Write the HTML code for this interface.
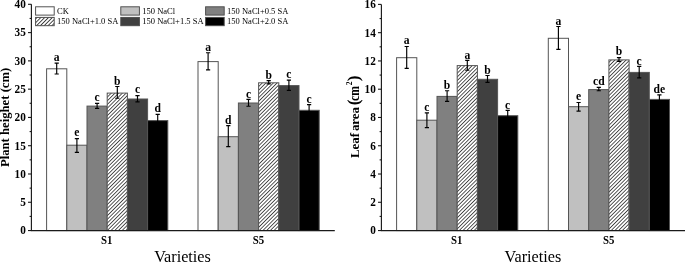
<!DOCTYPE html>
<html><head><meta charset="utf-8"><style>
html,body{margin:0;padding:0;background:#fff;}
body{width:685px;height:262px;overflow:hidden;}
svg{display:block;filter:grayscale(1);}
text{font-family:"Liberation Serif",serif;fill:#000;}
.tick{font-weight:bold;font-size:12px;}
.sig{font-weight:bold;font-size:11.6px;text-anchor:middle;}
.xt{font-weight:bold;font-size:12px;}
.xl{font-size:16.2px;}
.yl{font-weight:bold;font-size:12.7px;}
.leg{font-size:8.5px;}
</style></head><body>
<svg width="685" height="262" viewBox="0 0 685 262">
<defs>
<pattern id="hatch" patternUnits="userSpaceOnUse" width="2.62" height="10" patternTransform="rotate(45)">
<rect width="2.62" height="10" fill="#fff"/><rect width="0.7" height="10" fill="#111"/>
</pattern>
<pattern id="hatchL" patternUnits="userSpaceOnUse" width="2.72" height="10" patternTransform="rotate(45)">
<rect width="2.72" height="10" fill="#fff"/><rect width="0.75" height="10" fill="#111"/>
</pattern>
</defs>
<rect width="685" height="262" fill="#fff"/>
<rect x="46.60" y="68.80" width="20.20" height="161.75" fill="#ffffff" stroke="#555555" stroke-width="1"/>
<rect x="66.80" y="145.20" width="20.20" height="85.35" fill="#c0c0c0" stroke="#555555" stroke-width="1"/>
<rect x="87.00" y="106.10" width="20.20" height="124.45" fill="#808080" stroke="#555555" stroke-width="1"/>
<rect x="107.20" y="93.10" width="20.20" height="137.45" fill="url(#hatch)" stroke="#555555" stroke-width="1"/>
<rect x="127.40" y="99.00" width="20.20" height="131.55" fill="#404040" stroke="#555555" stroke-width="1"/>
<rect x="147.60" y="120.60" width="20.20" height="109.95" fill="#000000" stroke="#555555" stroke-width="1"/>
<path d="M56.70 63.05V74.00M54.60 63.05H58.80M54.60 74.00H58.80" stroke="#000" stroke-width="1.15" fill="none"/>
<text x="56.70" y="60.90" class="sig">a</text>
<path d="M76.90 138.60V152.40M74.80 138.60H79.00M74.80 152.40H79.00" stroke="#000" stroke-width="1.15" fill="none"/>
<text x="76.90" y="136.10" class="sig">e</text>
<path d="M97.10 103.40V108.30M95.00 103.40H99.20M95.00 108.30H99.20" stroke="#000" stroke-width="1.15" fill="none"/>
<text x="97.10" y="101.00" class="sig">c</text>
<path d="M117.30 86.50V98.20M115.20 86.50H119.40M115.20 98.20H119.40" stroke="#000" stroke-width="1.15" fill="none"/>
<text x="117.30" y="84.50" class="sig">b</text>
<path d="M137.50 95.60V101.80M135.40 95.60H139.60M135.40 101.80H139.60" stroke="#000" stroke-width="1.15" fill="none"/>
<text x="137.50" y="93.20" class="sig">c</text>
<path d="M157.70 114.40V126.00M155.60 114.40H159.80M155.60 126.00H159.80" stroke="#000" stroke-width="1.15" fill="none"/>
<text x="157.70" y="112.30" class="sig">d</text>
<rect x="198.00" y="61.60" width="20.20" height="168.95" fill="#ffffff" stroke="#555555" stroke-width="1"/>
<rect x="218.20" y="136.70" width="20.20" height="93.85" fill="#c0c0c0" stroke="#555555" stroke-width="1"/>
<rect x="238.40" y="103.00" width="20.20" height="127.55" fill="#808080" stroke="#555555" stroke-width="1"/>
<rect x="258.60" y="82.80" width="20.20" height="147.75" fill="url(#hatch)" stroke="#555555" stroke-width="1"/>
<rect x="278.80" y="85.60" width="20.20" height="144.95" fill="#404040" stroke="#555555" stroke-width="1"/>
<rect x="299.00" y="110.30" width="20.20" height="120.25" fill="#000000" stroke="#555555" stroke-width="1"/>
<path d="M208.10 52.70V69.80M206.00 52.70H210.20M206.00 69.80H210.20" stroke="#000" stroke-width="1.15" fill="none"/>
<text x="208.10" y="51.30" class="sig">a</text>
<path d="M228.30 125.60V146.60M226.20 125.60H230.40M226.20 146.60H230.40" stroke="#000" stroke-width="1.15" fill="none"/>
<text x="228.30" y="123.50" class="sig">d</text>
<path d="M248.50 99.40V106.20M246.40 99.40H250.60M246.40 106.20H250.60" stroke="#000" stroke-width="1.15" fill="none"/>
<text x="248.50" y="97.60" class="sig">c</text>
<path d="M268.70 80.60V83.80M266.60 80.60H270.80M266.60 83.80H270.80" stroke="#000" stroke-width="1.15" fill="none"/>
<text x="268.70" y="78.80" class="sig">b</text>
<path d="M288.90 80.10V90.40M286.80 80.10H291.00M286.80 90.40H291.00" stroke="#000" stroke-width="1.15" fill="none"/>
<text x="288.90" y="78.30" class="sig">c</text>
<path d="M309.10 104.60V115.00M307.00 104.60H311.20M307.00 115.00H311.20" stroke="#000" stroke-width="1.15" fill="none"/>
<text x="309.10" y="102.80" class="sig">c</text>
<path d="M31.4 4.31V230.55H334.8" stroke="#1a1a1a" stroke-width="1.15" fill="none"/>
<path d="M28.00 230.55H31.4" stroke="#1a1a1a" stroke-width="1.1"/>
<text transform="translate(25.80,234.40) scale(0.94,1.02)" class="tick" text-anchor="end">0</text>
<path d="M29.60 216.41H31.4" stroke="#1a1a1a" stroke-width="1.1"/>
<path d="M28.00 202.27H31.4" stroke="#1a1a1a" stroke-width="1.1"/>
<text transform="translate(25.80,206.12) scale(0.94,1.02)" class="tick" text-anchor="end">5</text>
<path d="M29.60 188.13H31.4" stroke="#1a1a1a" stroke-width="1.1"/>
<path d="M28.00 173.99H31.4" stroke="#1a1a1a" stroke-width="1.1"/>
<text transform="translate(25.80,177.84) scale(0.94,1.02)" class="tick" text-anchor="end">10</text>
<path d="M29.60 159.85H31.4" stroke="#1a1a1a" stroke-width="1.1"/>
<path d="M28.00 145.71H31.4" stroke="#1a1a1a" stroke-width="1.1"/>
<text transform="translate(25.80,149.56) scale(0.94,1.02)" class="tick" text-anchor="end">15</text>
<path d="M29.60 131.57H31.4" stroke="#1a1a1a" stroke-width="1.1"/>
<path d="M28.00 117.43H31.4" stroke="#1a1a1a" stroke-width="1.1"/>
<text transform="translate(25.80,121.28) scale(0.94,1.02)" class="tick" text-anchor="end">20</text>
<path d="M29.60 103.29H31.4" stroke="#1a1a1a" stroke-width="1.1"/>
<path d="M28.00 89.15H31.4" stroke="#1a1a1a" stroke-width="1.1"/>
<text transform="translate(25.80,93.00) scale(0.94,1.02)" class="tick" text-anchor="end">25</text>
<path d="M29.60 75.01H31.4" stroke="#1a1a1a" stroke-width="1.1"/>
<path d="M28.00 60.87H31.4" stroke="#1a1a1a" stroke-width="1.1"/>
<text transform="translate(25.80,64.72) scale(0.94,1.02)" class="tick" text-anchor="end">30</text>
<path d="M29.60 46.73H31.4" stroke="#1a1a1a" stroke-width="1.1"/>
<path d="M28.00 32.59H31.4" stroke="#1a1a1a" stroke-width="1.1"/>
<text transform="translate(25.80,36.44) scale(0.94,1.02)" class="tick" text-anchor="end">35</text>
<path d="M29.60 18.45H31.4" stroke="#1a1a1a" stroke-width="1.1"/>
<path d="M28.00 4.31H31.4" stroke="#1a1a1a" stroke-width="1.1"/>
<text transform="translate(25.80,8.16) scale(0.94,1.02)" class="tick" text-anchor="end">40</text>
<rect x="396.60" y="57.70" width="20.20" height="172.85" fill="#ffffff" stroke="#555555" stroke-width="1"/>
<rect x="416.80" y="120.20" width="20.20" height="110.35" fill="#c0c0c0" stroke="#555555" stroke-width="1"/>
<rect x="437.00" y="96.40" width="20.20" height="134.15" fill="#808080" stroke="#555555" stroke-width="1"/>
<rect x="457.20" y="65.60" width="20.20" height="164.95" fill="url(#hatch)" stroke="#555555" stroke-width="1"/>
<rect x="477.40" y="79.30" width="20.20" height="151.25" fill="#404040" stroke="#555555" stroke-width="1"/>
<rect x="497.60" y="115.70" width="20.20" height="114.85" fill="#000000" stroke="#555555" stroke-width="1"/>
<path d="M406.70 46.50V68.40M404.60 46.50H408.80M404.60 68.40H408.80" stroke="#000" stroke-width="1.15" fill="none"/>
<text x="406.70" y="44.10" class="sig">a</text>
<path d="M426.90 112.90V127.60M424.80 112.90H429.00M424.80 127.60H429.00" stroke="#000" stroke-width="1.15" fill="none"/>
<text x="426.90" y="111.20" class="sig">c</text>
<path d="M447.10 90.70V101.40M445.00 90.70H449.20M445.00 101.40H449.20" stroke="#000" stroke-width="1.15" fill="none"/>
<text x="447.10" y="88.50" class="sig">b</text>
<path d="M467.30 60.30V70.20M465.20 60.30H469.40M465.20 70.20H469.40" stroke="#000" stroke-width="1.15" fill="none"/>
<text x="467.30" y="58.50" class="sig">a</text>
<path d="M487.50 75.50V82.40M485.40 75.50H489.60M485.40 82.40H489.60" stroke="#000" stroke-width="1.15" fill="none"/>
<text x="487.50" y="74.00" class="sig">b</text>
<path d="M507.70 110.40V120.00M505.60 110.40H509.80M505.60 120.00H509.80" stroke="#000" stroke-width="1.15" fill="none"/>
<text x="507.70" y="108.50" class="sig">c</text>
<rect x="548.30" y="38.30" width="20.20" height="192.25" fill="#ffffff" stroke="#555555" stroke-width="1"/>
<rect x="568.50" y="106.70" width="20.20" height="123.85" fill="#c0c0c0" stroke="#555555" stroke-width="1"/>
<rect x="588.70" y="89.60" width="20.20" height="140.95" fill="#808080" stroke="#555555" stroke-width="1"/>
<rect x="608.90" y="59.90" width="20.20" height="170.65" fill="url(#hatch)" stroke="#555555" stroke-width="1"/>
<rect x="629.10" y="72.40" width="20.20" height="158.15" fill="#404040" stroke="#555555" stroke-width="1"/>
<rect x="649.30" y="99.40" width="20.20" height="131.15" fill="#000000" stroke="#555555" stroke-width="1"/>
<path d="M558.40 26.50V49.40M556.30 26.50H560.50M556.30 49.40H560.50" stroke="#000" stroke-width="1.15" fill="none"/>
<text x="558.40" y="24.70" class="sig">a</text>
<path d="M578.60 102.50V111.10M576.50 102.50H580.70M576.50 111.10H580.70" stroke="#000" stroke-width="1.15" fill="none"/>
<text x="578.60" y="100.30" class="sig">e</text>
<path d="M598.80 87.30V90.70M596.70 87.30H600.90M596.70 90.70H600.90" stroke="#000" stroke-width="1.15" fill="none"/>
<text x="598.80" y="85.10" class="sig">cd</text>
<path d="M619.00 57.60V61.30M616.90 57.60H621.10M616.90 61.30H621.10" stroke="#000" stroke-width="1.15" fill="none"/>
<text x="619.00" y="55.40" class="sig">b</text>
<path d="M639.20 66.30V77.80M637.10 66.30H641.30M637.10 77.80H641.30" stroke="#000" stroke-width="1.15" fill="none"/>
<text x="639.20" y="64.50" class="sig">c</text>
<path d="M659.40 94.90V103.00M657.30 94.90H661.50M657.30 103.00H661.50" stroke="#000" stroke-width="1.15" fill="none"/>
<text x="659.40" y="93.10" class="sig">de</text>
<path d="M381.4 4.41V230.55H685" stroke="#1a1a1a" stroke-width="1.15" fill="none"/>
<path d="M378.00 230.55H381.4" stroke="#1a1a1a" stroke-width="1.1"/>
<text transform="translate(375.80,234.40) scale(0.94,1.02)" class="tick" text-anchor="end">0</text>
<path d="M379.60 216.42H381.4" stroke="#1a1a1a" stroke-width="1.1"/>
<path d="M378.00 202.28H381.4" stroke="#1a1a1a" stroke-width="1.1"/>
<text transform="translate(375.80,206.13) scale(0.94,1.02)" class="tick" text-anchor="end">2</text>
<path d="M379.60 188.15H381.4" stroke="#1a1a1a" stroke-width="1.1"/>
<path d="M378.00 174.01H381.4" stroke="#1a1a1a" stroke-width="1.1"/>
<text transform="translate(375.80,177.86) scale(0.94,1.02)" class="tick" text-anchor="end">4</text>
<path d="M379.60 159.88H381.4" stroke="#1a1a1a" stroke-width="1.1"/>
<path d="M378.00 145.75H381.4" stroke="#1a1a1a" stroke-width="1.1"/>
<text transform="translate(375.80,149.60) scale(0.94,1.02)" class="tick" text-anchor="end">6</text>
<path d="M379.60 131.61H381.4" stroke="#1a1a1a" stroke-width="1.1"/>
<path d="M378.00 117.48H381.4" stroke="#1a1a1a" stroke-width="1.1"/>
<text transform="translate(375.80,121.33) scale(0.94,1.02)" class="tick" text-anchor="end">8</text>
<path d="M379.60 103.34H381.4" stroke="#1a1a1a" stroke-width="1.1"/>
<path d="M378.00 89.21H381.4" stroke="#1a1a1a" stroke-width="1.1"/>
<text transform="translate(375.80,93.06) scale(0.94,1.02)" class="tick" text-anchor="end">10</text>
<path d="M379.60 75.08H381.4" stroke="#1a1a1a" stroke-width="1.1"/>
<path d="M378.00 60.94H381.4" stroke="#1a1a1a" stroke-width="1.1"/>
<text transform="translate(375.80,64.79) scale(0.94,1.02)" class="tick" text-anchor="end">12</text>
<path d="M379.60 46.81H381.4" stroke="#1a1a1a" stroke-width="1.1"/>
<path d="M378.00 32.67H381.4" stroke="#1a1a1a" stroke-width="1.1"/>
<text transform="translate(375.80,36.52) scale(0.94,1.02)" class="tick" text-anchor="end">14</text>
<path d="M379.60 18.54H381.4" stroke="#1a1a1a" stroke-width="1.1"/>
<path d="M378.00 4.41H381.4" stroke="#1a1a1a" stroke-width="1.1"/>
<text transform="translate(375.80,8.26) scale(0.94,1.02)" class="tick" text-anchor="end">16</text>
<text transform="translate(106.8,243.6) scale(0.9,1)" class="xt" text-anchor="middle">S1</text>
<text transform="translate(258.5,243.6) scale(0.9,1)" class="xt" text-anchor="middle">S5</text>
<text transform="translate(456.8,243.6) scale(0.9,1)" class="xt" text-anchor="middle">S1</text>
<text transform="translate(608.7,243.6) scale(0.9,1)" class="xt" text-anchor="middle">S5</text>
<text x="182.5" y="261.8" class="xl" text-anchor="middle">Varieties</text>
<text x="532.9" y="261.8" class="xl" text-anchor="middle">Varieties</text>
<text transform="translate(9.2,117.4) rotate(-90)" class="yl" text-anchor="middle">Plant heighet (cm)</text>
<text transform="translate(359.4,158.10) rotate(-90)" class="yl" style="font-size:12.9px" id="p1" word-spacing="-1.3">Leaf area</text>
<text transform="translate(359.4,105.20) rotate(-90)" class="yl" style="font-size:17.5px" id="p2">(</text>
<text id="p3" transform="translate(359.4,100.9) rotate(-90) scale(0.92,1.22)" class="yl">cm</text>
<text id="p4" transform="translate(352.09999999999997,85.3) rotate(-90)" class="yl" style="font-size:7.5px">2</text>
<text transform="translate(359.4,81.20) rotate(-90)" class="yl" style="font-size:17.5px" id="p5">)</text>
<rect x="35.60" y="6.80" width="18.6" height="8.3" fill="#ffffff" stroke="#4a4a4a" stroke-width="0.95"/>
<text x="57.10" y="13.70" class="leg">CK</text>
<rect x="35.60" y="17.40" width="18.6" height="8.3" fill="url(#hatchL)" stroke="#4a4a4a" stroke-width="0.95"/>
<text x="57.10" y="24.30" class="leg">150 NaCl+1.0 SA</text>
<rect x="120.80" y="6.80" width="18.6" height="8.3" fill="#c0c0c0" stroke="#4a4a4a" stroke-width="0.95"/>
<text x="142.30" y="13.70" class="leg">150 NaCl</text>
<rect x="120.80" y="17.40" width="18.6" height="8.3" fill="#404040" stroke="#4a4a4a" stroke-width="0.95"/>
<text x="142.30" y="24.30" class="leg">150 NaCl+1.5 SA</text>
<rect x="205.60" y="6.80" width="18.6" height="8.3" fill="#808080" stroke="#4a4a4a" stroke-width="0.95"/>
<text x="227.10" y="13.70" class="leg">150 NaCl+0.5 SA</text>
<rect x="205.60" y="17.40" width="18.6" height="8.3" fill="#000000" stroke="#4a4a4a" stroke-width="0.95"/>
<text x="227.10" y="24.30" class="leg">150 NaCl+2.0 SA</text>
</svg>
</body></html>
